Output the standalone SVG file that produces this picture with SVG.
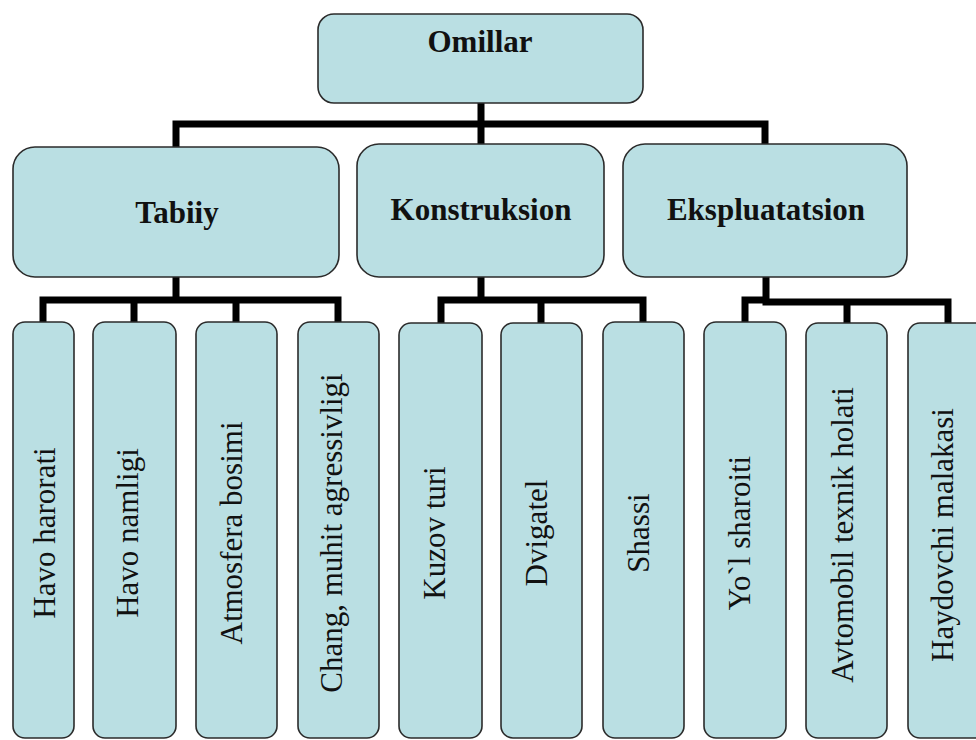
<svg xmlns="http://www.w3.org/2000/svg" width="976" height="740" viewBox="0 0 976 740">
<style>
.box{fill:#badfe3;stroke:#2b2b2b;stroke-width:1.6}
.hd{font-family:"Liberation Serif","Times New Roman",serif;font-weight:bold;font-size:31px;fill:#111;text-anchor:middle}
.lf{font-family:"Liberation Serif","Times New Roman",serif;font-size:31px;fill:#111;text-anchor:middle}
.cn{fill:none;stroke:#000;stroke-width:7;stroke-linejoin:miter;stroke-linecap:square}
</style>
<rect width="976" height="740" fill="#fff"/>
<g id="connectors">
<path class="cn" d="M481 103 V144 M176 147 V124 H765 V144"/>
<path class="cn" d="M176 277 V300 M43 322 V300 H338 V322 M134 300 V322 M236 300 V322"/>
<path class="cn" d="M481 277 V300 M441 323 V300 H643 V322 M541 300 V323"/>
<path class="cn" d="M766 277 V302 M745 322 V300 H766 M766 302 H948 V323 M847 302 V323"/>
</g>
<g id="omillar"><rect class="box" x="318" y="14" width="325" height="89" rx="16"/><text class="hd" x="480" y="52">Omillar</text></g>
<g id="tabiiy"><rect class="box" x="13" y="147" width="326" height="130" rx="22"/><text class="hd" x="177" y="223">Tabiiy</text></g>
<g id="konstruksion"><rect class="box" x="357" y="144" width="247" height="133" rx="22"/><text class="hd" x="481" y="220">Konstruksion</text></g>
<g id="eksplua"><rect class="box" x="623" y="144" width="284" height="133" rx="22"/><text class="hd" x="766" y="220">Ekspluatatsion</text></g>
<g id="n1"><rect class="box" x="13" y="322" width="61" height="416" rx="12"/><text class="lf" transform="translate(44,533) rotate(-90)" y="11">Havo harorati</text></g>
<g id="n2"><rect class="box" x="93" y="322" width="83" height="416" rx="12"/><text class="lf" transform="translate(134,533) rotate(-90)" y="4">Havo namligi</text></g>
<g id="n3"><rect class="box" x="196" y="322" width="81" height="416" rx="12"/><text class="lf" transform="translate(236,533) rotate(-90)" y="6">Atmosfera bosimi</text></g>
<g id="n4"><rect class="box" x="298" y="322" width="81" height="416" rx="12"/><text class="lf" transform="translate(338,533) rotate(-90)" y="4">Chang, muhit agressivligi</text></g>
<g id="n5"><rect class="box" x="399" y="323" width="83" height="415" rx="12"/><text class="lf" transform="translate(440,533) rotate(-90)" y="5">Kuzov turi</text></g>
<g id="n6"><rect class="box" x="501" y="323" width="81" height="415" rx="12"/><text class="lf" transform="translate(541,533) rotate(-90)" y="6">Dvigatel</text></g>
<g id="n7"><rect class="box" x="603" y="322" width="81" height="416" rx="12"/><text class="lf" transform="translate(643,533) rotate(-90)" y="6">Shassi</text></g>
<g id="n8"><rect class="box" x="704" y="322" width="82" height="416" rx="12"/><text class="lf" transform="translate(745,533) rotate(-90)" y="5">Yo`l sharoiti</text></g>
<g id="n9"><rect class="box" x="806" y="323" width="81" height="415" rx="12"/><text class="lf" transform="translate(846,535) rotate(-90)" y="7">Avtomobil texnik holati</text></g>
<g id="n10"><rect class="box" x="908" y="323" width="82" height="415" rx="12"/><text class="lf" transform="translate(949,535) rotate(-90)" y="4">Haydovchi malakasi</text></g>
</svg>
